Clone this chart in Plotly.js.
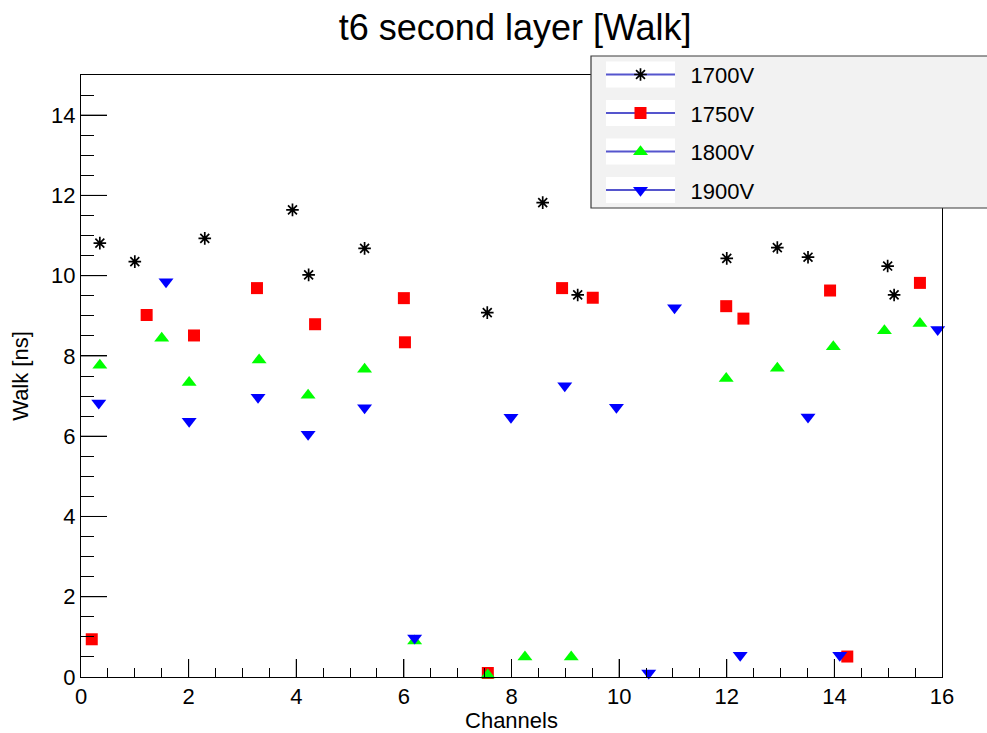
<!DOCTYPE html>
<html>
<head>
<meta charset="utf-8">
<script src="https://cdn.plot.ly/plotly-3.0.1.min.js"></script>
<style>html,body{margin:0;padding:0;background:#fff;}#chart{width:987px;height:733px;}</style>
</head>
<body>
<div id="chart"></div>
<script>
// ---- data ----
const seriesNames = ["1700V", "1750V", "1800V", "1900V"];

const ch1700   = [0.35, 1.00, 2.30, 3.93, 4.23, 5.27, 7.55, 8.58, 9.23, 12.00, 12.94, 13.51, 14.99, 15.11];
const walk1700 = [10.81, 10.35, 10.93, 11.64, 10.02, 10.68, 9.08, 11.82, 9.52, 10.43, 10.70, 10.46, 10.24, 9.52];

const ch1750   = [0.20, 1.22, 2.10, 3.27, 4.35, 6.00, 6.02, 7.56, 8.94, 9.51, 11.99, 12.31, 13.92, 14.24, 15.59];
const walk1750 = [0.94, 9.02, 8.51, 9.69, 8.79, 9.44, 8.34, 0.10, 9.69, 9.45, 9.24, 8.93, 9.63, 0.51, 9.82];

const ch1800   = [0.35, 1.50, 2.01, 3.31, 4.22, 5.27, 6.20, 7.56, 8.25, 9.11, 11.99, 12.94, 13.98, 14.93, 15.59];
const walk1800 = [7.77, 8.44, 7.34, 7.90, 7.02, 7.67, 0.90, 0.05, 0.50, 0.50, 7.44, 7.69, 8.23, 8.63, 8.81];

const ch1900   = [0.33, 1.58, 2.01, 3.29, 4.22, 5.27, 6.20, 7.99, 8.99, 9.95, 10.55, 11.03, 12.25, 13.51, 14.10, 15.92];
const walk1900 = [6.83, 9.85, 6.37, 6.97, 6.05, 6.71, 0.97, 6.47, 7.26, 6.72, 0.10, 9.20, 0.54, 6.48, 0.54, 8.66];

const xRange = [0, 16], xMajor = 2, xMinor = 0.5;
const yRange = [0, 15], yMajor = 2, yMinor = 0.5;
const xMajorTicks = [2, 4, 6, 8, 10, 12, 14];
const yMajorTicks = [2, 4, 6, 8, 10, 12, 14];

// ---- layout helpers ----
const FONT = "Liberation Sans, Arial, Helvetica, sans-serif";
const W = 987, H = 733;
const PL = 81, PR = 942, PT = 75, PB = 677;
const px2x = p => (p - PL) / (PR - PL);
const px2y = p => (PB - p) / (PB - PT);

const traces = [
  {x: ch1700, y: walk1700, name: seriesNames[0],
   marker: {symbol: "asterisk-open", size: 10.5, color: "#000000", line: {color: "#000000", width: 1.7}}},
  {x: ch1750, y: walk1750, name: seriesNames[1],
   marker: {symbol: "square", size: 12, color: "#ff0000", line: {width: 0}}},
  {x: ch1800, y: walk1800, name: seriesNames[2],
   marker: {symbol: "triangle-up", size: 13, color: "#00ff00", line: {width: 0}}},
  {x: ch1900, y: walk1900, name: seriesNames[3],
   marker: {symbol: "triangle-down", size: 13, color: "#0000ff", line: {width: 0}}}
].map((t, i) => Object.assign({type: "scatter", mode: "markers", cliponaxis: false,
  legendgroup: "g" + i}, t));

const shapes = [];
// major tick marks (ROOT style, inside the frame), placed through the axes' own scales
xMajorTicks.forEach(v => {
  shapes.push({type: "line", xref: "x", yref: "paper", layer: "above",
    x0: v, x1: v, y0: 0, y1: 18 / (PB - PT), line: {color: "#000000", width: 1}});
});
yMajorTicks.forEach(v => {
  shapes.push({type: "line", xref: "paper", yref: "y", layer: "above",
    x0: 0, x1: 26 / (PR - PL), y0: v, y1: v, line: {color: "#000000", width: 1}});
});

// legend decoration (ROOT style box)
const legendCenters = [74.5, 113, 151.5, 190];
shapes.push({type: "rect", xref: "paper", yref: "paper", layer: "above",
   x0: px2x(591), x1: px2x(1010), y0: px2y(208), y1: px2y(56),
   fillcolor: "#f2f2f2", line: {color: "#3a3a3a", width: 1.2}});
legendCenters.forEach(cy => {
  shapes.push({type: "rect", xref: "paper", yref: "paper", layer: "above",
    x0: px2x(606), x1: px2x(675), y0: px2y(cy + 13), y1: px2y(cy - 13),
    fillcolor: "#ffffff", line: {width: 0}});
  shapes.push({type: "line", xref: "paper", yref: "paper", layer: "above",
    x0: px2x(606), x1: px2x(675), y0: px2y(cy), y1: px2y(cy),
    line: {color: "rgb(85,85,205)", width: 2}});
});

const layout = {
  width: W, height: H,
  margin: {l: PL, r: W - PR, t: PT, b: H - PB, pad: 0},
  font: {family: FONT, color: "#000000"},
  title: {text: "t6 second layer [Walk]", font: {family: FONT, size: 36, color: "#000000"},
          x: 0.522, xanchor: "center", y: 1 - 27 / H, yanchor: "middle"},
  xaxis: {
    range: xRange, dtick: xMajor, ticks: "inside", ticklen: 18, tickcolor: "#000",
    showline: true, mirror: true, linecolor: "#000", showgrid: false, zeroline: false,
    minor: {ticks: "inside", ticklen: 9, dtick: xMinor, tickcolor: "#000"},
    tickfont: {family: FONT, size: 22, color: "#000000"},
    title: {text: "Channels", font: {family: FONT, size: 22, color: "#000000"}, standoff: 4}
  },
  yaxis: {
    range: yRange, dtick: yMajor, ticks: "inside", ticklen: 26, tickcolor: "#000",
    showline: true, mirror: true, linecolor: "#000", showgrid: false, zeroline: false,
    minor: {ticks: "inside", ticklen: 13, dtick: yMinor, tickcolor: "#000"},
    tickfont: {family: FONT, size: 22, color: "#000000"},
    title: {text: "Walk [ns]", font: {family: FONT, size: 22, color: "#000000"}, standoff: 16}
  },
  showlegend: true,
  legend: {
    x: px2x(590.5), xanchor: "left", y: px2y(53.7), yanchor: "top",
    bgcolor: "rgba(0,0,0,0)", borderwidth: 0,
    font: {family: FONT, size: 22, color: "#000000"},
    itemwidth: 90, tracegroupgap: 7, itemsizing: "trace"
  },
  shapes: shapes
};

Plotly.newPlot("chart", traces, layout, {displayModeBar: false, staticPlot: true});
</script>
</body>
</html>
